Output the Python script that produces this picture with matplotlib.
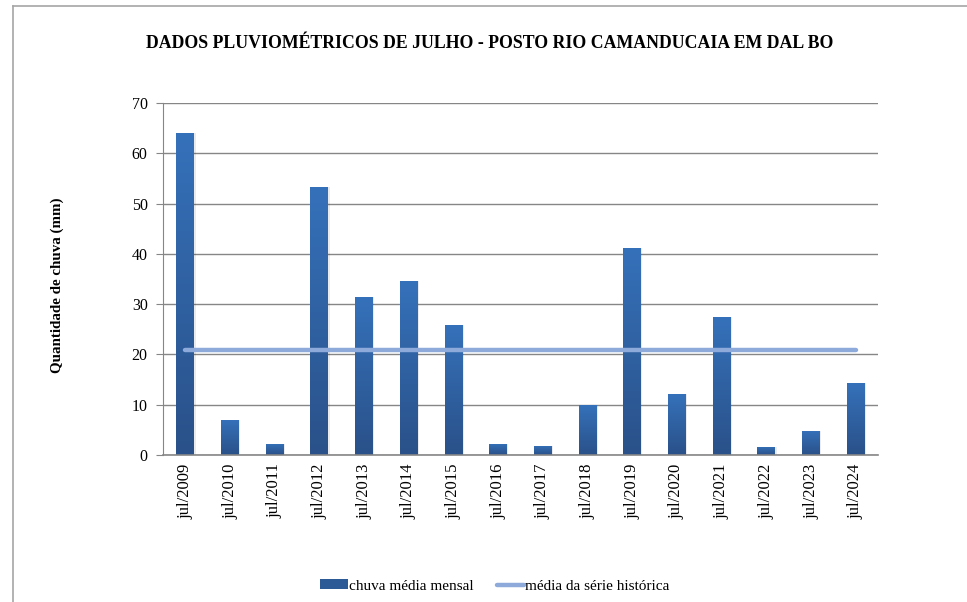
import matplotlib
matplotlib.use("Agg")
import matplotlib.pyplot as plt
import numpy as np
from matplotlib.patches import Rectangle
from matplotlib.lines import Line2D
from matplotlib.colors import LinearSegmentedColormap

categories = ["jul/2009", "jul/2010", "jul/2011", "jul/2012", "jul/2013", "jul/2014",
              "jul/2015", "jul/2016", "jul/2017", "jul/2018", "jul/2019", "jul/2020",
              "jul/2021", "jul/2022", "jul/2023", "jul/2024"]
chuva = [64.1, 7.0, 2.2, 53.3, 31.4, 34.6, 25.8, 2.2, 1.8, 9.9, 41.2, 12.1, 27.4, 1.6, 4.8, 14.3]
media = [20.8] * len(categories)
yticks = [0, 10, 20, 30, 40, 50, 60, 70]

plt.rcParams['font.family'] = ['Liberation Serif', 'DejaVu Serif']

W, H = 967, 602
fig = plt.figure(figsize=(W / 100, H / 100), dpi=100)
ax = fig.add_axes([163 / W, 1 - 455 / H, (878 - 163) / W, (455 - 103) / H])

x = np.arange(len(categories))
bw = 0.4
cmap = LinearSegmentedColormap.from_list("g", ["#2A5189", "#3571BA"])
grad = np.linspace(0, 1, 256).reshape(-1, 1)
bars = ax.bar(x, chuva, width=bw, color="#2E5E9E", zorder=2, linewidth=0)
for b in bars:
    bx, by = b.get_x(), b.get_y()
    bwid, bh = b.get_width(), b.get_height()
    ax.add_patch(Rectangle((bx + 0.03, by), bwid, bh, facecolor="#000000", alpha=0.08,
                           zorder=1.5, linewidth=0))
    im = ax.imshow(grad, extent=[bx, bx + bwid, by, by + bh], origin="lower", cmap=cmap,
                   aspect="auto", zorder=2.1)
    im.set_clip_path(b)

ax.plot(x, media, color="#8EAADB", linewidth=3.2, solid_capstyle="round", zorder=3)

ax.set_xlim(-0.5, len(categories) - 0.5)
ax.set_ylim(0, 70)
ax.set_yticks(yticks)
ax.set_yticklabels([str(v) for v in yticks], fontsize=11.5)
ax.set_xticks(x)
ax.set_xticklabels(categories, rotation=90, fontsize=12)
ax.tick_params(axis='x', length=0, pad=6)
ax.tick_params(axis='y', length=5, color="#868686", pad=6)
ax.yaxis.grid(True, color="#868686", linewidth=1.0)
ax.set_axisbelow(True)
for s in ["top", "right"]:
    ax.spines[s].set_visible(False)
ax.spines["left"].set_color("#868686")
ax.spines["bottom"].set_color("#868686")
ax.spines["bottom"].set_linewidth(1.2)

fig.text(490 / W, 1 - 44 / H, "DADOS PLUVIOMÉTRICOS DE JULHO - POSTO RIO CAMANDUCAIA EM DAL BO",
         ha="center", va="center", fontsize=12.8, fontweight="bold")
fig.text(57 / W, 1 - 285 / H, "Quantidade de chuva (mm)", rotation=90, ha="center", va="center",
         fontsize=10.8, fontweight="bold")

handles = [Rectangle((0, 0), 1, 1, facecolor="#2C5A96"),
           Line2D([0], [0], color="#8EAADB", linewidth=3.2, solid_capstyle="round")]
fig.legend(handles, ["chuva média mensal", "média da série histórica"], loc="center",
           bbox_to_anchor=(495 / W, 1 - 586 / H), ncol=2, frameon=False, fontsize=11,
           handlelength=1.8, handletextpad=0.05, columnspacing=1.55, handleheight=0.6)

fig.add_artist(Line2D([13 / W, 13 / W], [0, 1 - 6 / H], transform=fig.transFigure,
                      color="#A6A6A6", linewidth=1.2))
fig.add_artist(Line2D([13 / W, 1], [1 - 6 / H, 1 - 6 / H], transform=fig.transFigure,
                      color="#A6A6A6", linewidth=1.2))

fig.savefig("out.png", dpi=100)
